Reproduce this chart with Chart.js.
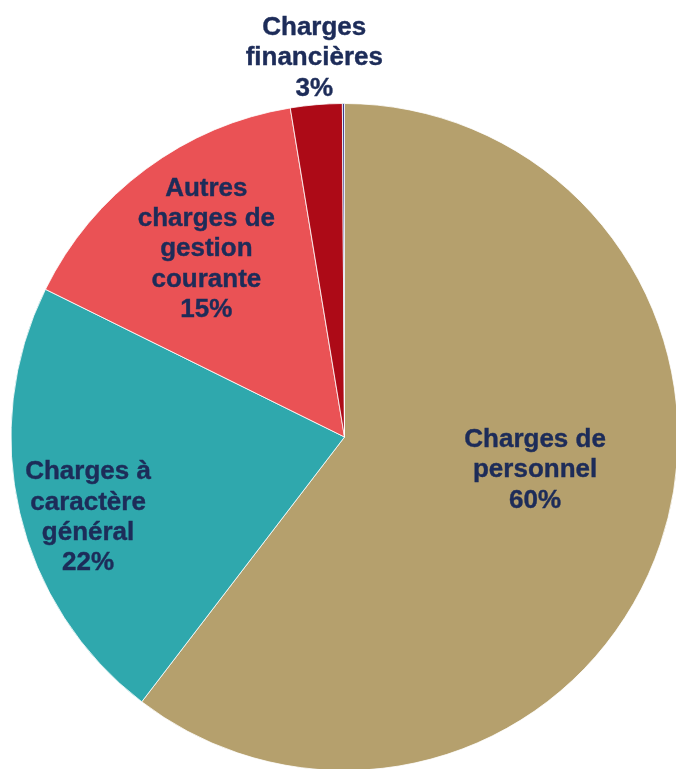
<!DOCTYPE html>
<html lang="fr">
<head>
<meta charset="utf-8">
<title>Répartition des charges</title>
<script src="https://cdn.jsdelivr.net/npm/chart.js@4/dist/chart.umd.min.js"></script>
<style>
  html, body { margin: 0; padding: 0; background: #ffffff; overflow: hidden; }
  #wrap { width: 676px; height: 769px; overflow: hidden; position: relative; }
  canvas { display: block; position: absolute; left: 0; top: 0; }
</style>
</head>
<body>
<div id="wrap"><canvas id="pie" width="690" height="790"></canvas></div>
<script>
// Expense categories (multi-line labels) and their share of the total, in %
const categories = [
  ['Charges de', 'personnel'],
  ['Charges à', 'caractère', 'général'],
  ['Autres', 'charges de', 'gestion', 'courante'],
  ['Charges', 'financières'],
  ['Charges', 'exceptionnelles']
];
const shares = [60.4, 21.9, 15.1, 2.5, 0.1];
const sliceColors = ['#B5A06D', '#2FA8AD', '#EA5255', '#AD0A17', '#3E3F8E'];

// Where each label sits: angular nudge (deg) from the slice middle, and distance as a fraction of the radius
const labelPlacement = [
  { turn: -8.9, dist: 0.58 },
  { turn: -4.3, dist: 0.806 },
  { turn: 0.2, dist: 0.699 },
  { turn: 0.3, dist: 1.140 },
  null
];

const LABEL_FONT = 'bold 26px "Liberation Sans", Arial, sans-serif';
const LABEL_COLOR = '#1D2C59';
const LINE_HEIGHT = 30.4;

const sliceLabels = {
  id: 'sliceLabels',
  afterDatasetsDraw(chart) {
    const ctx = chart.ctx;
    const meta = chart.getDatasetMeta(0);
    const values = chart.data.datasets[0].data;
    ctx.save();
    ctx.font = LABEL_FONT;
    ctx.fillStyle = LABEL_COLOR;
    ctx.strokeStyle = LABEL_COLOR;
    ctx.lineWidth = 0.4;
    ctx.textAlign = 'center';
    ctx.textBaseline = 'middle';
    meta.data.forEach((arc, i) => {
      const place = labelPlacement[i];
      if (!place) return;
      const lines = [...chart.data.labels[i], Math.round(values[i]) + '%'];
      const mid = (arc.startAngle + arc.endAngle) / 2 + place.turn * Math.PI / 180;
      const cx = arc.x + Math.cos(mid) * arc.outerRadius * place.dist;
      const cy = arc.y + Math.sin(mid) * arc.outerRadius * place.dist;
      const top = cy - (lines.length - 1) * LINE_HEIGHT / 2;
      lines.forEach((t, k) => {
        ctx.fillText(t, cx, top + k * LINE_HEIGHT);
        ctx.strokeText(t, cx, top + k * LINE_HEIGHT);
      });
    });
    ctx.restore();
  }
};

new Chart(document.getElementById('pie'), {
  type: 'pie',
  data: {
    labels: categories,
    datasets: [{
      data: shares,
      backgroundColor: sliceColors,
      borderColor: '#ffffff',
      borderWidth: 0.8,
      radius: 333.5
    }]
  },
  options: {
    responsive: false,
    animation: false,
    layout: { padding: { left: 11, right: 12, top: 103.5, bottom: 19.5 } },
    plugins: {
      legend: { display: false },
      tooltip: { enabled: false }
    }
  },
  plugins: [sliceLabels]
});
</script>
</body>
</html>
